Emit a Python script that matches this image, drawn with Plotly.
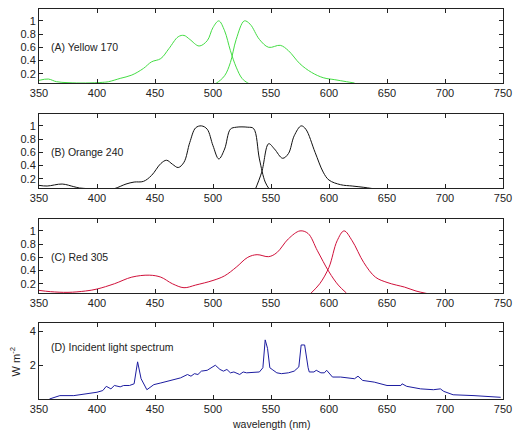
import plotly.graph_objects as go

# ---------------- data ----------------
a1_wl = [350, 358, 365, 375, 390, 405, 410, 420, 430, 440, 447, 455, 462, 470, 475, 480, 488, 495, 500, 505, 510, 515, 520, 525, 530, 535]
a1_val = [0.10, 0.12, 0.08, 0.065, 0.06, 0.07, 0.08, 0.13, 0.18, 0.28, 0.38, 0.43, 0.58, 0.76, 0.78, 0.72, 0.62, 0.70, 0.90, 1.00, 0.85, 0.55, 0.30, 0.13, 0.06, 0.02]
a2_wl = [497, 503, 510, 515, 520, 527, 532, 540, 548, 558, 565, 575, 585, 595, 605, 615, 622]
a2_val = [0.02, 0.06, 0.17, 0.37, 0.72, 1.00, 0.95, 0.72, 0.60, 0.63, 0.55, 0.35, 0.22, 0.14, 0.11, 0.08, 0.06]

b1_wl = [350, 357, 370, 380, 385, 392, 400, 408, 415, 425, 432, 440, 447, 455, 460, 465, 470, 475, 480, 485, 490, 495, 500, 505, 510, 515, 520, 530, 535, 540, 545, 549]
b1_val = [0.10, 0.09, 0.12, 0.08, 0.06, 0.05, 0.03, 0.03, 0.05, 0.12, 0.15, 0.16, 0.25, 0.43, 0.48, 0.42, 0.37, 0.45, 0.75, 0.97, 1.00, 0.95, 0.70, 0.50, 0.65, 0.95, 0.98, 0.98, 0.96, 0.50, 0.15, 0.03]
b2_wl = [536, 542, 548, 553, 560, 565, 570, 576, 580, 588, 595, 600, 610, 620, 630, 638]
b2_val = [0.02, 0.30, 0.73, 0.65, 0.51, 0.58, 0.85, 1.00, 0.95, 0.60, 0.30, 0.18, 0.11, 0.09, 0.07, 0.05]

c1_wl = [350, 360, 375, 390, 400, 415, 430, 445, 455, 465, 475, 485, 500, 510, 520, 530, 538, 548, 555, 565, 575, 582, 590, 600, 608, 615]
c1_val = [0.10, 0.08, 0.07, 0.09, 0.12, 0.20, 0.30, 0.33, 0.30, 0.20, 0.14, 0.18, 0.25, 0.32, 0.45, 0.60, 0.64, 0.61, 0.67, 0.88, 1.00, 0.96, 0.70, 0.38, 0.18, 0.06]
c2_wl = [584, 592, 600, 607, 613, 620, 630, 640, 650, 658, 665, 675, 685]
c2_val = [0.05, 0.20, 0.45, 0.85, 1.00, 0.85, 0.52, 0.30, 0.22, 0.18, 0.15, 0.09, 0.05]

d_wl = [359, 365, 368, 380, 400, 405, 408, 412, 415, 420, 423, 428, 432, 435, 438, 443, 449, 455, 461, 466, 472, 478, 481, 484, 487, 490, 495, 502, 506, 509, 512, 515, 518, 523, 526, 529, 535, 540, 543, 545, 547, 549, 551, 555, 559, 565, 570, 574, 576, 579, 582, 583, 587, 589, 593, 596, 598, 603, 610, 616, 622, 625, 629, 639, 650, 662, 663, 667, 679, 690, 696, 699, 707, 725, 748]
d_val = [0.0, 0.16, 0.2, 0.2, 0.4, 0.5, 0.75, 0.6, 0.8, 0.72, 0.8, 0.8, 0.9, 2.2, 1.2, 0.55, 0.85, 0.95, 1.05, 1.15, 1.25, 1.45, 1.35, 1.5, 1.45, 1.65, 1.7, 2.0, 1.75, 1.65, 1.75, 1.55, 1.6, 1.45, 1.6, 1.55, 1.6, 1.6, 1.85, 3.5, 3.0, 1.85, 1.75, 1.55, 1.5, 1.55, 1.65, 1.9, 3.2, 3.2, 1.85, 1.6, 1.6, 1.7, 1.55, 1.55, 1.7, 1.3, 1.3, 1.25, 1.2, 1.35, 1.1, 1.0, 0.8, 0.8, 0.9, 0.75, 0.6, 0.55, 0.6, 0.45, 0.25, 0.2, 0.1]

x_ticks = [350, 400, 450, 500, 550, 600, 650, 700, 750]
y_ticks_abc = [0.2, 0.4, 0.6, 0.8, 1]
y_tick_text_abc = ["0.2", "0.4", "0.6", "0.8", "1"]
y_ticks_d = [2, 4]

labels = ["(A) Yellow 170", "(B) Orange 240", "(C) Red 305", "(D) Incident light spectrum"]

# ---------------- figure ----------------
W, H = 514, 434
ml, mr, mt, mb = 39, 2, 9, 35
ph = H - mt - mb
bottom_abs = H - mb  # absolute px of plot bottom

def dom(top_px, bot_px):
    return [(bottom_abs - bot_px) / ph, (bottom_abs - top_px) / ph]

domains = [dom(9, 83), dom(114, 188), dom(219, 293), dom(323, 399)]

fig = go.Figure()
green = "#44dd44"
black = "#111111"
red = "#d0103a"
blue = "#1c1ca0"

series = [
    (a1_wl, a1_val, green, 1, "spline"), (a2_wl, a2_val, green, 1, "spline"),
    (b1_wl, b1_val, black, 2, "spline"), (b2_wl, b2_val, black, 2, "spline"),
    (c1_wl, c1_val, red, 3, "spline"), (c2_wl, c2_val, red, 3, "spline"),
    (d_wl, d_val, blue, 4, "linear"),
]
for xs, ys, col, k, shp in series:
    sfx = "" if k == 1 else str(k)
    fig.add_trace(go.Scatter(x=xs, y=ys, mode="lines", line=dict(color=col, width=1, shape=shp),
                             xaxis="x" + sfx, yaxis="y" + sfx, showlegend=False, hoverinfo="skip"))

tick_font = dict(family="Liberation Sans, Arial, sans-serif", size=11, color="#222222")
font = dict(family="Liberation Sans, Arial, sans-serif", size=10.5, color="#222222")
axcommon = dict(showline=True, linecolor="#222222", linewidth=1, mirror="ticks", ticks="inside",
                ticklen=4, tickcolor="#222222", showgrid=False, zeroline=False, tickfont=tick_font,
                ticklabeloverflow="allow")

layout = dict(width=W, height=H, autosize=False, margin=dict(l=ml, r=mr, t=mt, b=mb),
              paper_bgcolor="white", plot_bgcolor="white", showlegend=False, font=font)
for i in range(4):
    k = i + 1
    sfx = "" if k == 1 else str(k)
    xa = dict(axcommon, domain=[0, 1], range=[350, 750], tickvals=x_ticks,
              anchor="y" + sfx)
    if i < 3:
        ya = dict(axcommon, domain=domains[i], range=[0.06, 1.18], tickvals=y_ticks_abc,
                  ticktext=y_tick_text_abc, anchor="x" + sfx)
    else:
        ya = dict(axcommon, domain=domains[i], range=[0, 4.5], tickvals=y_ticks_d,
                  anchor="x" + sfx)
    layout["xaxis" + sfx] = xa
    layout["yaxis" + sfx] = ya
fig.update_layout(**layout)

label_y = [0.6, 0.6, 0.6, 3.07]
for i, t in enumerate(labels):
    sfx = "" if i == 0 else str(i + 1)
    fig.add_annotation(x=359, y=label_y[i], xref="x" + sfx, yref="y" + sfx, text=t,
                       showarrow=False, xanchor="left", yanchor="middle", font=font)

fig.add_annotation(x=0.5, y=-(424 - bottom_abs) / ph, xref="paper", yref="paper",
                   text="wavelength (nm)", showarrow=False, xanchor="center", yanchor="middle", font=font)
fig.add_annotation(x=-(39 - 15) / (W - ml - mr), y=(bottom_abs - 362) / ph, xref="paper", yref="paper",
                   text="W m<sup>-2</sup>", textangle=-90, showarrow=False,
                   xanchor="center", yanchor="middle", font=tick_font)

post = (
    "document.documentElement.style.margin='0';"
    "document.documentElement.style.overflow='hidden';"
    "document.body.style.margin='0';document.body.style.padding='0';"
    "document.body.style.overflow='hidden';"
)
fig.write_html("out.html",
               config={"responsive": False, "displayModeBar": False},
               post_script=post)
